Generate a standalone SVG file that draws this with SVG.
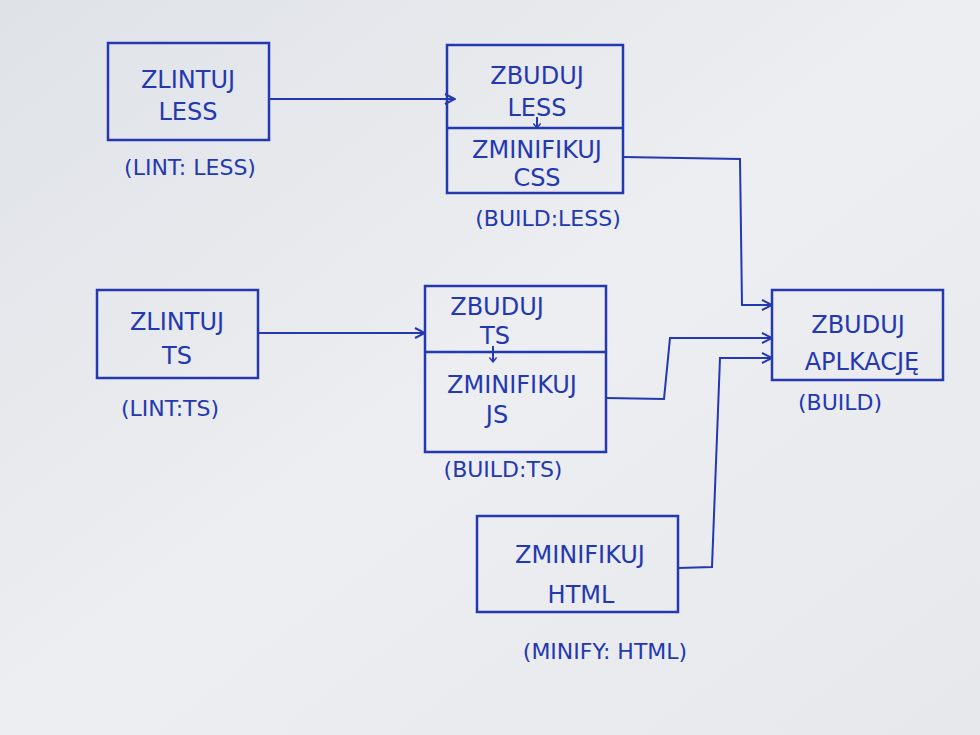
<svg xmlns="http://www.w3.org/2000/svg" width="980" height="735" viewBox="0 0 980 735">
<defs>
<linearGradient id="bg" x1="0" y1="0" x2="1" y2="1">
<stop offset="0" stop-color="#dfe2e7"/>
<stop offset="0.5" stop-color="#eceef1"/>
<stop offset="1" stop-color="#e6e8ec"/>
</linearGradient>
<marker id="arr" viewBox="0 0 12 12" refX="11" refY="6" markerWidth="12" markerHeight="12" markerUnits="userSpaceOnUse" orient="auto">
<path d="M1,1 L11,6 L1,11" fill="none" stroke="#2438b0" stroke-width="2"/>
</marker>
<marker id="sarr" viewBox="0 0 10 10" refX="5" refY="9" markerWidth="9" markerHeight="9" markerUnits="userSpaceOnUse" orient="0">
<path d="M1,4 L5,9 L9,4" fill="none" stroke="#2438b0" stroke-width="1.6"/>
</marker>
</defs>
<style>
.box{fill:none;stroke:#2438b0;stroke-width:2.5}
.ln{fill:none;stroke:#2438b0;stroke-width:2}
text{font-family:"DejaVu Sans","Liberation Sans",sans-serif;fill:#2438b0;text-anchor:middle;font-size:24px}
.lab{font-size:22px}
</style>
<rect width="980" height="735" fill="url(#bg)"/>
<g id="connectors">
<path class="ln" d="M269,99 L455,99" marker-end="url(#arr)"/>
<path class="ln" d="M258,333 L425,333" marker-end="url(#arr)"/>
<path class="ln" d="M623,157 L740,159 L742,305 L772,305" marker-end="url(#arr)"/>
<path class="ln" d="M606,398 L664,399 L670,338 L772,338" marker-end="url(#arr)"/>
<path class="ln" d="M678,568 L712,567 L720,358 L772,358" marker-end="url(#arr)"/>
</g>
<g id="lint-less">
<rect class="box" x="108" y="43" width="161" height="97"/>
<text x="188" y="88">ZLINTUJ</text>
<text x="188" y="120">LESS</text>
<text class="lab" x="190" y="175">(LINT: LESS)</text>
</g>
<g id="build-less">
<rect class="box" x="447" y="45" width="176" height="148"/>
<line class="box" x1="447" y1="128" x2="623" y2="128"/>
<text x="537" y="84">ZBUDUJ</text>
<text x="537" y="116">LESS</text>
<path class="ln" d="M537,117 L537,128" marker-end="url(#sarr)"/>
<text x="537" y="158" font-size="21">ZMINIFIKUJ</text>
<text x="537" y="186" font-size="21">CSS</text>
<text class="lab" x="548" y="226">(BUILD:LESS)</text>
</g>
<g id="lint-ts">
<rect class="box" x="97" y="290" width="161" height="88"/>
<text x="177" y="330">ZLINTUJ</text>
<text x="177" y="364">TS</text>
<text class="lab" x="170" y="416">(LINT:TS)</text>
</g>
<g id="build-ts">
<rect class="box" x="425" y="286" width="181" height="166"/>
<line class="box" x1="425" y1="352" x2="606" y2="352"/>
<text x="497" y="315" font-size="21">ZBUDUJ</text>
<text x="495" y="344" font-size="21">TS</text>
<path class="ln" d="M493,346 L493,362" marker-end="url(#sarr)"/>
<text x="512" y="393">ZMINIFIKUJ</text>
<text x="497" y="423">JS</text>
<text class="lab" x="503" y="477">(BUILD:TS)</text>
</g>
<g id="build">
<rect class="box" x="772" y="290" width="171" height="90"/>
<text x="858" y="333">ZBUDUJ</text>
<text x="862" y="370">APLKACJĘ</text>
<text class="lab" x="840" y="410">(BUILD)</text>
</g>
<g id="minify-html">
<rect class="box" x="477" y="516" width="201" height="96"/>
<text x="580" y="563">ZMINIFIKUJ</text>
<text x="581" y="603">HTML</text>
<text class="lab" x="605" y="659">(MINIFY: HTML)</text>
</g>
</svg>
